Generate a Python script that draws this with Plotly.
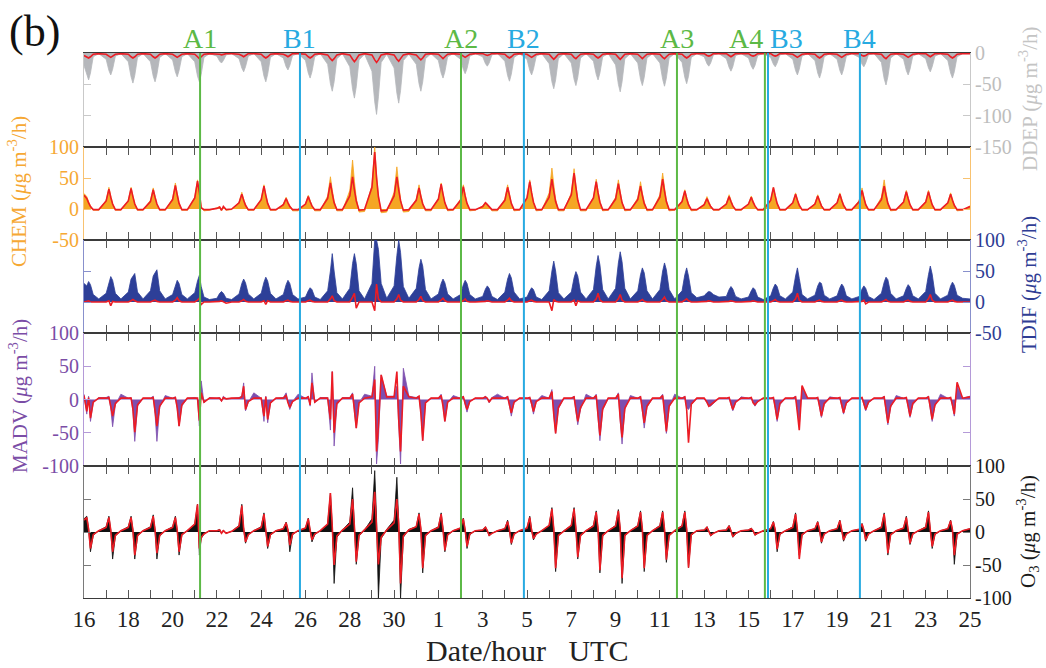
import plotly.graph_objects as go
from plotly.subplots import make_subplots

# ---------------- data ----------------
# sample hours within each day (UTC); each row below = one day, values at these hours
HOURS = [0, 3, 5, 7, 10, 16]
N_DAYS = 40
DATE_LABELS = ["16", "18", "20", "22", "24", "26", "28", "30", "1", "3", "5",
               "7", "9", "11", "13", "15", "17", "19", "21", "23", "25"]

EVENT_NAMES = ["A1", "B1", "A2", "B2", "A3", "A4", "B3", "B4"]
EVENT_DAYS = [5.24, 9.75, 17.02, 19.86, 26.77, 30.74, 30.88, 35.03]

DDEP_OBS = [
    [-20, -35, -43, -32, -6, -1], [-10, -28, -35, -26, -5, -1], [-14, -38, -48, -36, -7, -1],
    [-14, -37, -46, -34, -7, -1], [-11, -30, -38, -28, -6, -1], [-14, -37, -46, -34, -7, -1],
    [-5, -13, -16, -12, -3, -1], [-9, -24, -30, -22, -5, -1], [-14, -37, -46, -34, -7, -1],
    [-8, -22, -27, -20, -4, -1], [-12, -32, -40, -30, -6, -1], [-18, -49, -61, -46, -9, -1],
    [-22, -58, -72, -54, -11, -2], [-29, -78, -98, -70, -15, -2], [-24, -64, -80, -60, -12, -2],
    [-18, -49, -61, -46, -9, -1], [-12, -32, -40, -30, -6, -1], [-10, -26, -33, -25, -5, -1],
    [-6, -17, -21, -16, -3, -1], [-13, -36, -45, -34, -7, -1], [-10, -28, -35, -26, -5, -1],
    [-17, -46, -57, -43, -9, -1], [-16, -42, -52, -39, -8, -1], [-13, -34, -43, -32, -6, -1],
    [-19, -50, -62, -46, -9, -1], [-16, -42, -52, -39, -8, -1], [-16, -42, -53, -40, -8, -1],
    [-15, -39, -49, -37, -7, -1], [-6, -17, -21, -16, -3, -1], [-9, -23, -29, -22, -4, -1],
    [-8, -21, -26, -20, -4, -1], [-7, -18, -22, -16, -3, -1], [-10, -28, -35, -26, -5, -1],
    [-12, -32, -40, -30, -6, -1], [-10, -28, -35, -26, -5, -1], [-7, -18, -22, -16, -3, -1],
    [-15, -41, -51, -38, -8, -1], [-10, -28, -35, -26, -5, -1], [-9, -24, -30, -22, -5, -1],
    [-12, -32, -40, -30, -6, -1]]
DDEP_OBS_END = -1
DDEP_MOD = [
    [-4, -7, -8, -6, -2, -1], [-2, -5, -7, -5, -2, -1], [-2, -6, -8, -6, -2, -1],
    [-2, -6, -8, -6, -2, -1], [-2, -5, -7, -5, -2, -1], [-2, -6, -9, -6, -2, -1],
    [-1, -2, -3, -2, -1, -1], [-2, -4, -6, -4, -1, -1], [-2, -6, -8, -6, -2, -1],
    [-2, -4, -6, -4, -1, -1], [-2, -6, -8, -6, -2, -1], [-3, -9, -12, -9, -3, -1],
    [-3, -10, -14, -10, -3, -1], [-3, -11, -15, -11, -3, -1], [-3, -10, -13, -9, -3, -1],
    [-3, -8, -11, -8, -2, -1], [-2, -6, -9, -6, -2, -1], [-2, -5, -7, -5, -2, -1],
    [-1, -3, -4, -3, -1, -1], [-2, -6, -8, -6, -2, -1], [-2, -5, -7, -5, -2, -1],
    [-2, -7, -10, -7, -2, -1], [-2, -7, -9, -6, -2, -1], [-2, -6, -8, -6, -2, -1],
    [-2, -7, -10, -7, -2, -1], [-2, -6, -9, -6, -2, -1], [-2, -7, -9, -6, -2, -1],
    [-2, -6, -8, -6, -2, -1], [-1, -4, -5, -4, -1, -1], [-1, -4, -6, -4, -1, -1],
    [-1, -4, -5, -4, -1, -1], [-1, -4, -5, -4, -1, -1], [-2, -5, -7, -5, -2, -1],
    [-2, -6, -8, -6, -2, -1], [-2, -5, -7, -5, -2, -1], [-1, -4, -5, -4, -1, -1],
    [-2, -7, -9, -6, -2, -1], [-2, -5, -7, -5, -2, -1], [-1, -4, -6, -4, -1, -1],
    [-2, -6, -8, -6, -2, -1]]
DDEP_MOD_END = -1

CHEM_OBS = [
    [25, 20, 12, 5, -2, -2], [14, 35, 21, 9, -2, -2], [14, 35, 21, 9, -2, -2],
    [14, 34, 20, 8, -2, -2], [17, 42, 25, 10, -2, -2], [19, 47, 28, 2, -3, -2],
    [2, 4, -3, 3, -2, -1], [11, 27, 16, 7, -2, -2], [16, 39, 23, 10, -2, -2],
    [8, 19, 11, 5, -3, -3], [9, 22, 13, 5, -3, -3], [21, 52, 31, 13, -3, -3],
    [30, 79, 45, 18, -5, -4], [38, 100, 55, 22, -6, -5], [27, 68, 40, 16, -5, -4],
    [16, 39, 23, 10, -3, -3], [17, 42, 25, 10, -3, -2], [16, 39, 23, 9, -3, -2],
    [5, 11, 8, 4, -3, -3], [16, 39, 23, 9, -3, -2], [19, 47, 28, 11, -3, -2],
    [26, 66, 40, 16, -3, -3], [26, 65, 39, 16, -3, -3], [19, 48, 29, 12, -3, -2],
    [19, 47, 28, 11, -3, -2], [18, 44, 26, 11, -3, -2], [23, 58, 35, 14, -3, -2],
    [12, 31, 19, 8, -3, -2], [8, 20, 12, 5, -2, -2], [9, 23, 14, 6, -2, -2],
    [8, 21, 13, 5, -2, -2], [14, 35, 21, 9, -2, -2], [10, 26, 16, 6, -2, -2],
    [9, 23, 14, 6, -2, -2], [10, 26, 16, 6, -2, -2], [14, 34, 20, 8, -2, -2],
    [19, 47, 28, 11, -3, -2], [12, 30, 18, 7, -2, -2], [12, 30, 18, 7, -2, -2],
    [10, 26, 16, 6, -3, -2]]
CHEM_OBS_END = 5
CHEM_MOD = [
    [22, 17, 10, 4, -1, -1], [13, 32, 19, 8, -1, -1], [13, 33, 20, 8, -1, -1],
    [12, 31, 19, 8, -1, -1], [15, 38, 23, 9, -1, -1], [18, 45, 27, 2, -1, -1],
    [1, 3, -2, 4, -1, 0], [10, 24, 14, 6, -1, -1], [15, 37, 22, 9, -1, -1],
    [7, 17, 10, 4, -1, -1], [8, 20, 12, 5, -1, -1], [17, 42, 25, 10, -1, -1],
    [21, 52, 31, 13, -2, -1], [35, 92, 50, 20, -3, -2], [21, 52, 31, 13, -2, -1],
    [14, 34, 20, 8, -1, -1], [16, 40, 24, 10, -1, -1], [14, 36, 21, 9, -1, -1],
    [4, 10, 7, 3, -1, -1], [14, 35, 21, 9, -1, -1], [18, 44, 26, 11, -1, -1],
    [19, 48, 29, 12, -1, -1], [23, 58, 35, 14, -1, -1], [18, 44, 26, 11, -1, -1],
    [16, 41, 25, 10, -1, -1], [15, 37, 22, 9, -1, -1], [19, 48, 29, 12, -1, -1],
    [12, 29, 17, 7, -1, -1], [7, 17, 10, 4, -1, -1], [8, 20, 12, 5, -1, -1],
    [8, 19, 11, 5, -1, -1], [14, 35, 21, 9, -1, -1], [10, 24, 14, 6, -1, -1],
    [8, 21, 13, 5, -1, -1], [10, 24, 14, 6, -1, -1], [12, 30, 18, 7, -1, -1],
    [15, 37, 22, 9, -1, -1], [11, 28, 17, 7, -1, -1], [11, 28, 17, 7, -1, -1],
    [10, 24, 14, 6, -1, -1]]
CHEM_MOD_END = 4

TDIF_OBS = [
    [30, 26, 33, 28, 12, 5], [14, 33, 41, 35, 14, 5], [16, 37, 42, 46, 16, 5],
    [18, 42, 47, 52, 18, 5], [12, 28, 35, 30, 12, 5], [15, 34, 43, 25, 8, 4],
    [6, 14, 17, 14, 6, 4], [13, 30, 37, 31, 13, 5], [14, 32, 40, 34, 14, 5],
    [12, 28, 35, 30, 12, 5], [8, 18, 23, 20, 8, 4], [18, 50, 78, 50, 15, 5],
    [22, 62, 78, 62, 18, 5], [30, 100, 100, 85, 30, 6], [26, 75, 100, 80, 25, 6],
    [22, 55, 69, 58, 20, 5], [13, 30, 37, 31, 13, 5], [12, 28, 35, 30, 12, 5],
    [9, 21, 26, 22, 9, 4], [16, 37, 46, 39, 16, 5], [8, 18, 23, 20, 8, 4],
    [18, 50, 66, 50, 15, 5], [16, 39, 49, 42, 16, 5], [20, 58, 75, 60, 20, 5],
    [22, 63, 81, 65, 22, 5], [18, 44, 55, 47, 18, 5], [20, 50, 63, 52, 20, 5],
    [18, 44, 55, 42, 15, 7], [10, 15, 17, 16, 12, 8], [9, 20, 25, 21, 9, 5],
    [8, 18, 23, 20, 8, 4], [10, 23, 29, 25, 10, 5], [16, 42, 55, 38, 12, 5],
    [11, 26, 32, 30, 11, 5], [10, 23, 29, 25, 10, 5], [9, 21, 26, 22, 9, 4],
    [14, 32, 40, 36, 14, 5], [10, 22, 28, 24, 10, 5], [17, 44, 58, 45, 14, 5],
    [11, 26, 32, 27, 11, 6]]
TDIF_OBS_END = 5
TDIF_MOD = [
    [0, 1, 2, 0, 0, 0], [0, 2, -6, 1, 0, 0], [0, 2, 4, 2, 0, 0],
    [0, 2, 3, 1, 0, 0], [0, 3, 7, 2, 0, 0], [0, 3, 6, -4, 0, 0],
    [0, 1, 2, 0, -2, 0], [0, 2, 4, 1, 0, 0], [0, 2, -4, 2, 0, 0],
    [0, 2, 3, 1, 0, 0], [0, 2, 3, 1, 0, 0], [0, 5, 10, 2, 0, 0],
    [0, 8, 14, -10, 0, 0], [0, -14, 29, 5, 0, 0], [0, 5, 12, 3, 0, 0],
    [0, 4, 9, 2, 0, 0], [0, 3, 6, 2, 0, 0], [0, 2, 5, 1, 0, 0],
    [0, 1, 2, 1, 0, 0], [0, 3, 6, 2, 0, 0], [0, 2, 3, 1, 0, 0],
    [0, -14, 4, 1, 0, 0], [0, 3, -6, 2, 0, 0], [0, 5, 14, 3, 0, 0],
    [0, 5, 12, 3, 0, 0], [0, 2, 4, 1, 0, 0], [0, 4, 8, 2, 0, 0],
    [0, 3, 5, 2, 0, 0], [0, 1, 2, 1, 0, 0], [0, 1, 2, 1, 0, 0],
    [0, 1, 2, 1, 0, 0], [0, 2, 4, 1, 0, 0], [0, 5, 14, 3, 0, 0],
    [0, 2, 3, 1, 0, 0], [0, 2, 3, 1, 0, 0], [0, 1, 3, -3, 0, 0],
    [0, 2, 4, 1, 0, 0], [0, 2, 3, 1, 0, 0], [0, 5, 12, 3, 0, 0],
    [0, 2, 3, 1, 0, 0]]
TDIF_MOD_END = 0

MADV_OBS = [
    [8, -22, 5, -33, -5, 3], [3, 5, -14, -41, -8, 8], [2, 3, -18, -63, -10, 2],
    [2, 5, -22, -63, -12, 6], [2, 4, -14, -40, -10, 2], [3, 2, -40, 28, -5, 3],
    [2, 3, -3, 5, 1, 2], [3, 5, 25, -17, -4, 10], [2, -33, 5, -35, -6, 2],
    [3, 10, -5, -15, -3, 8], [2, 5, -10, 40, -5, 3], [3, -46, 42, -70, -8, 3],
    [3, 10, -20, -43, -5, 8], [5, 50, -97, -60, 37, 5], [5, 20, -38, -97, 47, 5],
    [3, 5, -20, -62, -5, 2], [2, 8, -10, -33, -5, 6], [2, 5, -8, -19, -3, 2],
    [2, 5, 2, -5, 3, 8], [2, 5, -10, -25, -5, 2], [2, 3, -8, -22, -3, 6],
    [2, 15, -24, -51, -14, 2], [2, 5, -18, -38, -15, 8], [2, 8, -28, -62, -16, 2],
    [2, 10, -32, -67, -15, 6], [2, 5, -18, -43, -12, 2], [2, 8, -22, -51, -12, 8],
    [2, 5, -12, -15, -8, 2], [2, -5, -10, -10, -6, 2], [2, 3, -8, -17, -5, 4],
    [2, 3, -5, -10, -3, 2], [2, 3, -14, -33, -8, 2], [2, 5, -15, -40, 18, 2],
    [2, 3, -12, -27, -8, 4], [2, 3, -10, -22, -6, 2], [2, 3, -8, -17, -5, 2],
    [2, 5, -18, -38, -12, 6], [2, 3, -12, -27, -8, 2], [2, 5, -15, -33, -10, 8],
    [2, 3, -10, -25, 20, 2]]
MADV_OBS_END = 5
MADV_MOD = [
    [6, -18, 3, -28, -4, 2], [2, 3, -10, -25, -6, 2], [2, 2, -14, -49, -8, 2],
    [2, 3, -17, -40, -10, 2], [2, 3, -12, -40, -8, 2], [2, 2, -32, 10, -4, 2],
    [2, 2, -2, 3, 1, 2], [2, 4, 20, -15, -3, 2], [2, -25, 4, -30, -5, 2],
    [2, 6, -5, -12, -3, 2], [2, 4, -8, 25, -4, 2], [2, -30, 42, -50, -6, 2],
    [2, 8, -15, -43, -5, 2], [4, 30, -78, -40, 37, 4], [4, 42, -30, -78, 20, 4],
    [2, 5, -20, -62, -5, 2], [2, 6, -10, -33, -4, 2], [2, 4, -6, -15, -3, 2],
    [2, 4, 2, -4, 2, 2], [2, 4, -10, -20, -4, 2], [2, 3, -6, -18, -3, 2],
    [2, 12, -22, -51, -12, 2], [2, 4, -15, -33, -12, 2], [2, 6, -24, -54, -14, 2],
    [2, 8, -28, -57, -13, 2], [2, 4, -15, -35, -10, 2], [2, 6, -20, -48, -10, 2],
    [2, 4, -15, -65, -7, 2], [2, -4, -10, -8, -5, 2], [2, 3, -6, -15, -4, 2],
    [2, 3, -5, -8, -3, 2], [2, 3, -12, -30, -6, 2], [2, 4, -20, -46, 21, 2],
    [2, 3, -10, -25, -6, 2], [2, 3, -8, -20, -5, 2], [2, 3, -6, -15, -4, 2],
    [2, 4, -15, -35, -10, 2], [2, 3, -10, -25, -6, 2], [2, 4, -12, -30, -8, 2],
    [2, 3, -8, -22, 26, 2]]
MADV_MOD_END = 4

O3_OBS = [
    [20, 24, 5, -30, -5, 2], [8, 24, 3, -41, -6, 2], [8, 24, 3, -41, -6, 2],
    [8, 26, 3, -41, -6, 2], [8, 24, 3, -35, -5, 2], [12, 42, -35, -10, -3, 2],
    [2, 4, -2, 3, -2, 1], [10, 42, 5, -17, -4, 2], [8, 29, 3, -25, -5, 2],
    [5, 15, 3, -30, -4, 2], [6, 21, 3, -15, -4, 2], [12, 59, 10, -78, -8, 3],
    [15, 67, 10, -49, -6, 3], [20, 93, 20, -100, -10, 4], [18, 83, 15, -100, -8, 4],
    [8, 29, 5, -62, -6, 2], [8, 29, 5, -30, -5, 2], [6, 21, 3, -25, -4, 2],
    [3, 8, 2, -6, -2, 2], [5, 18, 3, -19, -3, 2], [6, 24, 3, -12, -3, 2],
    [10, 37, 5, -60, -6, 2], [10, 37, 5, -41, -6, 2], [10, 32, 5, -62, -6, 2],
    [10, 34, 5, -78, -6, 2], [10, 32, 5, -60, -6, 2], [10, 32, 5, -46, -6, 2],
    [10, 32, 5, -54, -5, 2], [3, 8, 2, -6, -2, 2], [3, 10, 2, -8, -3, 2],
    [3, 6, 2, -5, -2, 2], [5, 16, 3, -30, -4, 2], [8, 29, 3, -35, -5, 2],
    [5, 16, 3, -17, -3, 2], [5, 18, 3, -14, -3, 2], [4, 13, 3, -14, -3, 2],
    [8, 29, 3, -35, -5, 2], [6, 24, 3, -19, -3, 2], [8, 32, 3, -25, -4, 2],
    [5, 18, 3, -49, -4, 2]]
O3_OBS_END = 5
O3_MOD = [
    [18, 22, 4, -25, -4, 2], [7, 22, 3, -30, -5, 2], [7, 22, 3, -35, -5, 2],
    [7, 24, 3, -32, -5, 2], [7, 22, 3, -30, -4, 2], [12, 42, -25, -8, -3, 2],
    [2, 3, -2, 2, -2, 1], [9, 40, 5, -15, -4, 2], [7, 27, 3, -22, -4, 2],
    [5, 14, 3, -20, -3, 2], [6, 20, 3, -12, -3, 2], [12, 59, 8, -50, -6, 3],
    [12, 50, 8, -45, -5, 3], [15, 61, 15, -49, -8, 3], [14, 50, 12, -78, -6, 3],
    [8, 27, 5, -55, -5, 2], [7, 27, 4, -28, -4, 2], [6, 20, 3, -22, -3, 2],
    [3, 7, 2, -5, -2, 2], [5, 16, 3, -17, -3, 2], [6, 22, 3, -10, -3, 2],
    [10, 35, 5, -55, -5, 2], [10, 35, 5, -38, -5, 2], [9, 30, 4, -58, -5, 2],
    [9, 32, 4, -70, -5, 2], [9, 30, 4, -55, -5, 2], [9, 30, 4, -42, -5, 2],
    [9, 30, 4, -54, -4, 2], [3, 7, 2, -5, -2, 2], [3, 9, 2, -7, -2, 2],
    [3, 5, 2, -4, -2, 2], [5, 15, 3, -26, -3, 2], [7, 27, 3, -41, -4, 2],
    [5, 15, 3, -15, -3, 2], [5, 17, 3, -12, -3, 2], [4, 12, 3, -12, -3, 2],
    [7, 27, 3, -32, -4, 2], [6, 22, 3, -17, -3, 2], [7, 30, 3, -22, -3, 2],
    [5, 17, 3, -35, -3, 2]]
O3_MOD_END = 5

# ---------------- styling ----------------
SERIF = "Liberation Serif"
RED = "#EC1C24"
GREEN = "#5CB946"
SKY = "#27AAE1"

PANELS = [
    dict(obs=DDEP_OBS, obs_end=DDEP_OBS_END, mod=DDEP_MOD, mod_end=DDEP_MOD_END,
         fill="#B5B7BB", text="#BDBDBD", axis="#C9C9C9", side="right",
         rng=[-150, 0], ticks=[0, -50, -100, -150]),
    dict(obs=CHEM_OBS, obs_end=CHEM_OBS_END, mod=CHEM_MOD, mod_end=CHEM_MOD_END,
         fill="#F5A623", text="#F6A833", axis="#F8C270", side="left",
         rng=[-50, 100], ticks=[-50, 0, 50, 100]),
    dict(obs=TDIF_OBS, obs_end=TDIF_OBS_END, mod=TDIF_MOD, mod_end=TDIF_MOD_END,
         fill="#2D3F98", text="#2F3D94", axis="#8890CC", side="right",
         rng=[-50, 100], ticks=[-50, 0, 50, 100]),
    dict(obs=MADV_OBS, obs_end=MADV_OBS_END, mod=MADV_MOD, mod_end=MADV_MOD_END,
         fill="#7D4FAF", text="#7B4DA6", axis="#B49AD8", side="left",
         rng=[-100, 100], ticks=[-100, -50, 0, 50, 100]),
    dict(obs=O3_OBS, obs_end=O3_OBS_END, mod=O3_MOD, mod_end=O3_MOD_END,
         fill="#111111", text="#1A1A1A", axis="#7A7A7A", side="right",
         rng=[-100, 100], ticks=[-100, -50, 0, 50, 100]),
]

# time axis (days since the first day)
T = [d + h / 24 for d in range(N_DAYS) for h in HOURS] + [N_DAYS]


def flat(rows, end):
    return [v for row in rows for v in row] + [end]


fig = make_subplots(rows=5, cols=1, shared_xaxes=True, vertical_spacing=0,
                    row_heights=[94, 93, 93, 133, 132])

for i, p in enumerate(PANELS, start=1):
    fig.add_trace(go.Scatter(x=T, y=flat(p["obs"], p["obs_end"]), mode="lines",
                             fill="tozeroy", fillcolor=p["fill"],
                             line=dict(color=p["fill"], width=0.8),
                             showlegend=False, hoverinfo="skip"), row=i, col=1)
    fig.add_trace(go.Scatter(x=T, y=flat(p["mod"], p["mod_end"]), mode="lines",
                             line=dict(color=RED, width=1.6),
                             showlegend=False, hoverinfo="skip"), row=i, col=1)
    fig.update_yaxes(row=i, col=1, range=p["rng"], side=p["side"],
                     tickvals=p["ticks"], ticktext=[str(v) for v in p["ticks"]],
                     tickfont=dict(family=SERIF, size=20, color=p["text"]),
                     showline=True, linecolor=p["axis"], linewidth=1.2,
                     mirror="ticks", ticks="inside", ticklen=7, tickwidth=1.2,
                     tickcolor=p["axis"], showgrid=False, zeroline=False)

xt_text = []
lab = iter(DATE_LABELS)
for d in range(N_DAYS + 1):
    xt_text.append(next(lab) if d % 2 == 0 else " ")

fig.update_xaxes(range=[0, N_DAYS], tickvals=list(range(N_DAYS + 1)),
                 showline=True, linecolor="#3A3A3A", linewidth=1.2,
                 ticks="inside", ticklen=8, tickwidth=1.3, tickcolor="#555555",
                 showgrid=False, zeroline=False, mirror="allticks")
fig.update_xaxes(row=1, col=1, mirror=True)
fig.update_xaxes(row=5, col=1, ticktext=xt_text, showticklabels=True,
                 tickfont=dict(family=SERIF, size=23, color="#222222"))

# event lines
shapes = []
annotations = []
for name, day in zip(EVENT_NAMES, EVENT_DAYS):
    col = GREEN if name.startswith("A") else SKY
    shapes.append(dict(type="line", xref="x", yref="paper", x0=day, x1=day,
                       y0=0, y1=1, line=dict(color=col, width=2)))
    anchor = "center"
    if name == "A4":
        anchor = "right"
    elif name == "B3":
        anchor = "left"
    annotations.append(dict(text=name, x=day, y=1, xref="x", yref="paper",
                            xanchor=anchor, yanchor="bottom", showarrow=False,
                            yshift=-3, font=dict(family=SERIF, size=28, color=col)))

PLOT_L, PLOT_R, PLOT_T, PLOT_B = 84, 970, 53, 598


def px_to_paper(px, py):
    return (px - PLOT_L) / (PLOT_R - PLOT_L), (PLOT_B - py) / (PLOT_B - PLOT_T)


unit = " (<i>μ</i>g m<sup>-3</sup>/h)"
titles = [
    ("DDEP" + unit, 1028, 99, "#C4C4C4"),
    ("CHEM" + unit, 18, 192, "#F6A833"),
    ("TDIF" + unit, 1027, 285, "#2F3D94"),
    ("MADV" + unit, 18, 396, "#7B4DA6"),
    ("O<sub>3</sub>" + unit, 1027, 532, "#1A1A1A"),
]
for txt, px, py, col in titles:
    x, y = px_to_paper(px, py)
    annotations.append(dict(text=txt, x=x, y=y, xref="paper", yref="paper",
                            xanchor="center", yanchor="middle", textangle=-90,
                            showarrow=False,
                            font=dict(family=SERIF, size=21, color=col)))

x, y = px_to_paper(7, 31)
annotations.append(dict(text="(b)", x=x, y=y, xref="paper", yref="paper",
                        xanchor="left", yanchor="middle", showarrow=False,
                        font=dict(family=SERIF, size=44, color="#111111")))
x, y = px_to_paper(527, 650)
annotations.append(dict(text="Date/hour\u00a0\u00a0\u00a0UTC", x=x, y=y,
                        xref="paper", yref="paper", xanchor="center",
                        yanchor="middle", showarrow=False,
                        font=dict(family=SERIF, size=30, color="#222222")))

fig.update_layout(width=1046, height=668,
                  margin=dict(l=PLOT_L, r=1046 - PLOT_R, t=PLOT_T, b=668 - PLOT_B),
                  paper_bgcolor="white", plot_bgcolor="white",
                  font=dict(family=SERIF),
                  shapes=shapes, annotations=annotations, showlegend=False)

fig.write_html("out.html")
